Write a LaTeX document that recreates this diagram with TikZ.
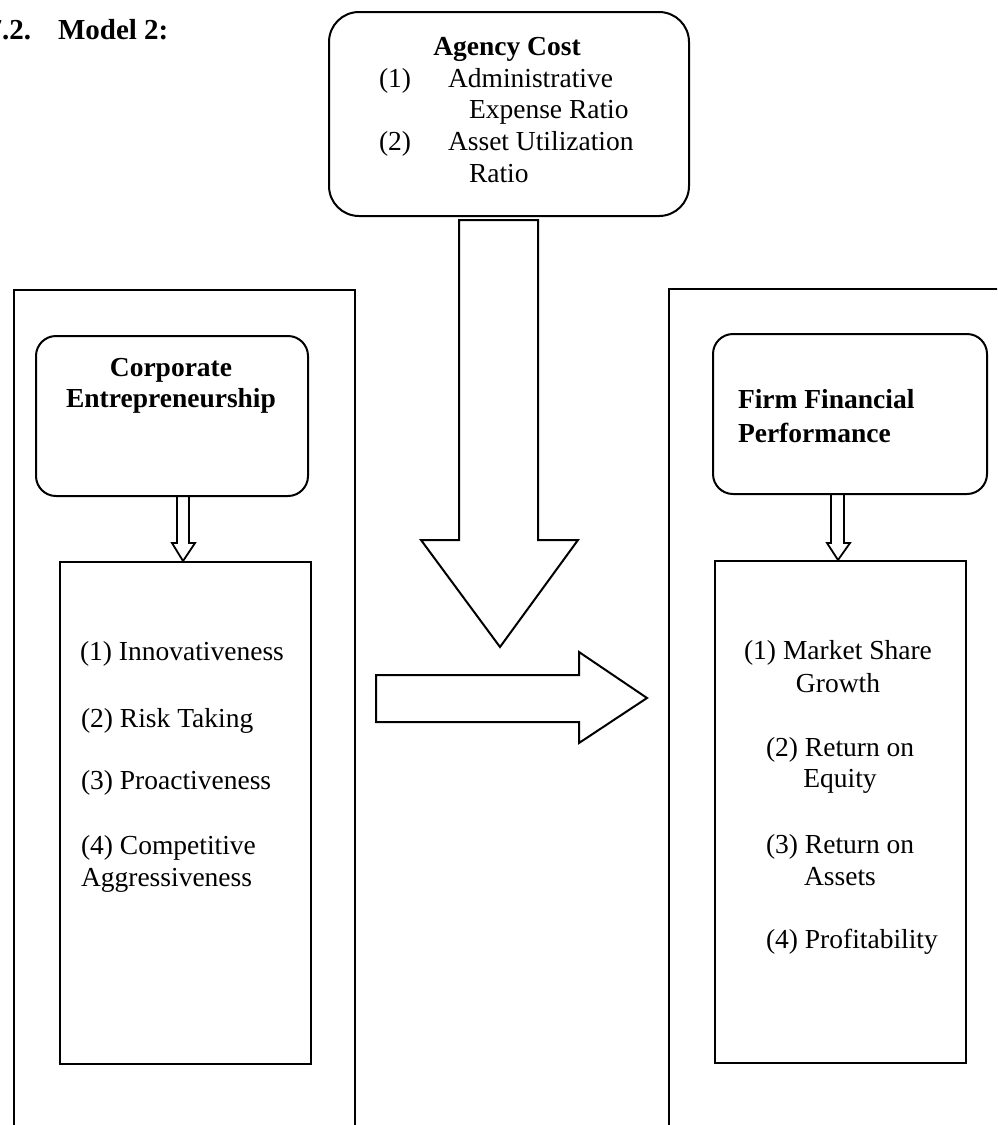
\documentclass[tikz,border=0pt]{standalone}
\usepackage{fontspec}
\setmainfont{Liberation Serif}
\begin{document}
\begin{tikzpicture}[x=1pt,y=-1pt,
  line width=2pt, line join=miter,
  txt/.style={inner sep=0pt, font=\fontsize{27.5}{32}\selectfont},
  lt/.style={txt, anchor=base west},
  ct/.style={txt, anchor=base},
  hd/.style={inner sep=0pt, font=\fontsize{27.5}{32}\selectfont\bfseries},
  box/.style={draw, line width=2pt, inner sep=0pt, anchor=north west},
  blockarrow/.style={draw, line width=2pt, line join=miter},
  thinarrow/.style={draw, line width=1.8pt, line join=miter}]
\clip (0,0) rectangle (997,1125);

% heading
\node[hd, anchor=base east] (secnum) at (32,39) {\fontsize{29}{32}\selectfont 7.2.};
\node[hd, anchor=base west] (title) at (57,39) {\fontsize{29}{32}\selectfont Model 2:};

% agency cost (moderator)
\node[box, rounded corners=30pt, minimum width=360pt, minimum height=204pt] (agency) at (328,11) {};
\node[hd, anchor=base] (agtitle) at (507,55) {Agency Cost};
\node[lt] (ag1n) at (378,87) {(1)};
\node[lt] (ag1a) at (447,87) {Administrative};
\node[lt] (ag1b) at (468,118) {Expense Ratio};
\node[lt] (ag2n) at (378,150) {(2)};
\node[lt] (ag2a) at (447,150) {Asset Utilization};
\node[lt] (ag2b) at (468,182) {Ratio};

% outer frames (open towards the page edges)
\node[box, minimum width=341pt, minimum height=860pt] (leftframe) at (13,289) {};
\node[box, minimum width=345pt, minimum height=860pt] (rightframe) at (668,288) {};

% corporate entrepreneurship
\node[box, rounded corners=20pt, minimum width=272pt, minimum height=160pt] (cbox) at (35,335) {};
\node[hd, anchor=base] (ctitle1) at (171,376) {Corporate};
\node[hd, anchor=base] (ctitle2) at (171,407) {Entrepreneurship};

\node[box, minimum width=251pt, minimum height=502pt] (clist) at (59,561) {};
\node[lt] (c1) at (79,660) {(1) Innovativeness};
\node[lt] (c2) at (80,727) {(2) Risk Taking};
\node[lt] (c3) at (80,789) {(3) Proactiveness};
\node[lt] (c4a) at (80,854) {(4) Competitive};
\node[lt] (c4b) at (80,886) {Aggressiveness};

% firm financial performance
\node[box, rounded corners=20pt, minimum width=274pt, minimum height=160pt] (fbox) at (712,333) {};
\node[hd, anchor=base west] (ftitle1) at (737,408) {Firm Financial};
\node[hd, anchor=base west] (ftitle2) at (737,442) {Performance};

\node[box, minimum width=251pt, minimum height=502pt] (flist) at (714,560) {};
\node[ct] (f1a) at (838,659) {(1) Market Share};
\node[ct] (f1b) at (838,692) {Growth};
\node[lt] (f2a) at (765,756) {(2) Return on};
\node[ct] (f2b) at (840,787) {Equity};
\node[lt] (f3a) at (765,853) {(3) Return on};
\node[ct] (f3b) at (840,885) {Assets};
\node[lt] (f4) at (765,948) {(4) Profitability};

% small arrows from headers to their lists
\draw[thinarrow] (cbox.south -| 177,0) -- (177,543) -- (172,543)
  -- (clist.north -| 183,0) -- (195,543) -- (189,543) -- (cbox.south -| 189,0);
\draw[thinarrow] (fbox.south -| 831,0) -- (831,543) -- (827,543)
  -- (flist.north -| 838,0) -- (850,543) -- (844,543) -- (fbox.south -| 844,0);

% moderating arrow from agency cost
\coordinate (agtail) at (498,220);
\coordinate (agtip) at (500,647);
\draw[blockarrow] (agtail -| 459,0) -- (459,540) -- (421,540) -- (agtip)
  -- (578,540) -- (538,540) -- (agtail -| 538,0) -- cycle;

% main effect arrow
\coordinate (mtail) at (376,698);
\coordinate (mtip) at (647,698);
\draw[blockarrow] (mtail |- 0,675) -- (579,675) -- (579,652) -- (mtip)
  -- (579,743) -- (579,722) -- (mtail |- 0,722) -- cycle;
\end{tikzpicture}
\end{document}
